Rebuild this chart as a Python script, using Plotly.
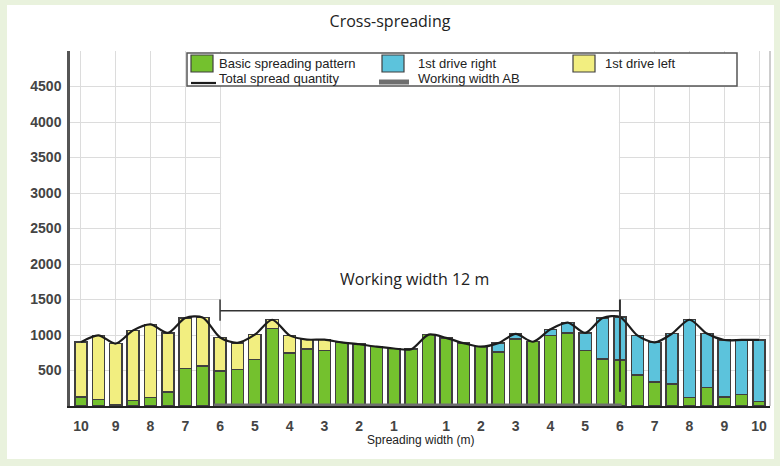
import plotly.graph_objects as go

# bar positions 0..39, every 0.5 m across the bout
positions = list(range(40))
tick_positions = [0, 2, 4, 6, 8, 10, 12, 14, 16, 18, 21, 23, 25, 27, 29, 31, 33, 35, 37, 39]
tick_labels = ["10", "9", "8", "7", "6", "5", "4", "3", "2", "1",
               "1", "2", "3", "4", "5", "6", "7", "8", "9", "10"]

basic = [130, 90, 20, 80, 120, 200, 530, 565, 495, 515,
         655, 1095, 750, 800, 780, 895, 870, 835, 810, 800,
         1005, 960, 885, 835, 760, 945, 905, 995, 1030, 785,
         665, 650, 440, 335, 310, 120, 260, 130, 160, 60]
drive_right = [None] * 24 + [125, 70, None, 85, 145, 245,
                             575, 605, 555, 560, 710, 1095, 760, 800, 770, 870]
drive_left = [770, 905, 860, 985, 1030, 830, 710, 680, 470, 375,
              350, 120, 245, 135, 155] + [None] * 25

total = [b + (r or 0) + (l or 0) for b, r, l in zip(basic, drive_right, drive_left)]

working_width = [7.65, 31.1]

GREEN = "#74c12e"
BLUE = "#5cc3dc"
YELLOW = "#f2ee80"
EDGE = "#3f3f3f"

# plot area in pixels (margins below)
L, T, W, H = 70, 51, 700, 355


def px(x):
    return (x - L) / W


def py(y):
    return (T + H - y) / H


fig = go.Figure()
fig.add_trace(go.Bar(x=positions, y=basic, name="Basic spreading pattern",
                     marker=dict(color=GREEN, line=dict(color=EDGE, width=1.5))))
fig.add_trace(go.Bar(x=positions, y=drive_right, name="1st drive right",
                     marker=dict(color=BLUE, line=dict(color=EDGE, width=1.5))))
fig.add_trace(go.Bar(x=positions, y=drive_left, name="1st drive left",
                     marker=dict(color=YELLOW, line=dict(color=EDGE, width=1.5))))
fig.add_trace(go.Scatter(x=positions, y=total, mode="lines", name="Total spread quantity",
                         line=dict(color="#1c1c1c", width=2.2, shape="spline", smoothing=0.8)))
fig.add_trace(go.Scatter(x=working_width, y=[0, 0], mode="lines", name="Working width AB",
                         cliponaxis=False, line=dict(color="#6e6e6e", width=5)))

# white panel on the pale green card
fig.add_shape(type="rect", xref="paper", yref="paper",
              x0=px(7), x1=px(774), y0=py(459), y1=py(5),
              fillcolor="white", line_width=0, layer="below")
# the middle of the grid is blanked out
fig.add_shape(type="rect", xref="x", yref="y", x0=8.06, x1=30.94, y0=0, y1=5000,
              fillcolor="white", line_width=0, layer="between")
# thin right frame of the plot area
fig.add_shape(type="line", xref="paper", yref="paper", x0=1, x1=1, y0=0, y1=1,
              line=dict(color="#9a9a9a", width=1))
# working width bracket
fig.add_shape(type="line", xref="x", yref="y", x0=8, x1=31, y0=1340, y1=1340,
              line=dict(color="#333", width=1.5))
fig.add_shape(type="line", xref="x", yref="y", x0=8, x1=8, y0=1500, y1=1200,
              line=dict(color="#333", width=1.5))
fig.add_shape(type="line", xref="x", yref="y", x0=31, x1=31, y0=1500, y1=200,
              line=dict(color="#333", width=2))

fig.add_annotation(x=19.2, y=1790, xref="x", yref="y", text="Working width 12 m",
                   showarrow=False, font=dict(family="Open Sans", size=16, color="#222"))
fig.add_annotation(x=19.5, y=py(440), xref="x", yref="paper", text="Spreading width (m)",
                   showarrow=False, yanchor="middle",
                   font=dict(family="Liberation Sans", size=12, color="#222"))

# legend box drawn by hand to match the compact two-row layout
fig.add_shape(type="rect", xref="paper", yref="paper",
              x0=px(187), x1=px(737), y0=py(86), y1=py(53),
              fillcolor="white", line=dict(color="#555", width=1.5), layer="above")
legend_boxes = [(191, GREEN), (382, BLUE), (573, YELLOW)]
for x0, color in legend_boxes:
    fig.add_shape(type="rect", xref="paper", yref="paper",
                  x0=px(x0), x1=px(x0 + 22), y0=py(72), y1=py(55),
                  fillcolor=color, line=dict(color=EDGE, width=1.2), layer="above")
fig.add_shape(type="line", xref="paper", yref="paper", x0=px(191), x1=px(216),
              y0=py(83), y1=py(83), line=dict(color="#1c1c1c", width=2.2), layer="above")
fig.add_shape(type="line", xref="paper", yref="paper", x0=px(379), x1=px(409),
              y0=py(82), y1=py(82), line=dict(color="#6e6e6e", width=5), layer="above")
legend_texts = [(217, 64, "Basic spreading pattern"), (416, 64, "1st drive right"),
                (603, 64, "1st drive left"), (217, 78, "Total spread quantity"),
                (416, 78, "Working width AB")]
for x0, y0, label in legend_texts:
    fig.add_annotation(x=px(x0), y=py(y0), xref="paper", yref="paper", text=label,
                       showarrow=False, xanchor="left", yanchor="middle",
                       font=dict(family="Liberation Sans", size=13, color="#222"))

fig.update_layout(
    width=780, height=466,
    margin=dict(l=L, r=780 - L - W, t=T, b=466 - T - H),
    paper_bgcolor="#e9f2dd", plot_bgcolor="white",
    barmode="stack", bargap=0.3,
    showlegend=False,
    title=dict(text="Cross-spreading", x=0.5, xanchor="center", y=0.955, yanchor="middle",
               font=dict(family="Open Sans", size=16, color="#222")),
    font=dict(family="Liberation Sans"),
)
fig.update_xaxes(range=[-0.63, 39.63], tickvals=tick_positions, ticktext=tick_labels,
                 automargin=False,
                 showgrid=True, gridcolor="#dcdcdc", gridwidth=1,
                 showline=True, linecolor="#222", linewidth=2,
                 ticks="outside", ticklen=6, tickcolor="rgba(0,0,0,0)",
                 tickfont=dict(family="Liberation Sans", size=14, color="#444", weight="bold"))
fig.update_yaxes(range=[0, 5000], tickvals=list(range(500, 5000, 500)),
                 automargin=False,
                 showgrid=True, gridcolor="#dcdcdc", gridwidth=1, zeroline=False,
                 showline=True, linecolor="#555", linewidth=2.5,
                 ticks="outside", ticklen=3, tickcolor="rgba(0,0,0,0)",
                 tickfont=dict(family="Liberation Sans", size=14, color="#444", weight="bold"))

fig.write_html("out.html", config={"displayModeBar": False},
               post_script="document.body.style.margin = '0';")
